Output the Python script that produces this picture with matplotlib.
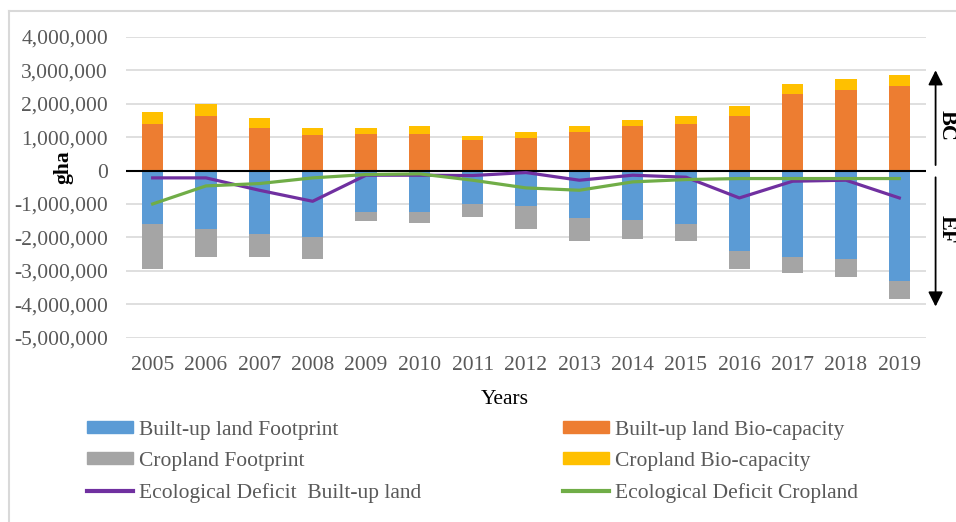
import matplotlib.pyplot as plt
from matplotlib.patches import Patch
from matplotlib.lines import Line2D
from matplotlib.ticker import FuncFormatter
import matplotlib.transforms as mtransforms
import numpy as np

plt.rcParams['font.family'] = ['Liberation Serif', 'DejaVu Serif']

years = ['2005', '2006', '2007', '2008', '2009', '2010', '2011', '2012',
         '2013', '2014', '2015', '2016', '2017', '2018', '2019']

# gha, footprints drawn below zero
builtup_fp = [1585000, 1760000, 1890000, 2000000, 1230000, 1230000, 990000, 1060000,
              1410000, 1470000, 1590000, 2410000, 2600000, 2660000, 3310000]
cropland_fp = [1370000, 820000, 690000, 640000, 290000, 350000, 410000, 700000,
               700000, 590000, 520000, 530000, 460000, 520000, 520000]
builtup_bc = [1405000, 1635000, 1280000, 1050000, 1100000, 1100000, 920000, 980000,
              1160000, 1340000, 1400000, 1635000, 2280000, 2410000, 2520000]
cropland_bc = [340000, 340000, 300000, 230000, 180000, 240000, 120000, 180000,
               170000, 170000, 240000, 290000, 300000, 340000, 350000]
deficit_builtup = [-220000, -220000, -590000, -920000, -140000, -140000, -150000, -60000,
                   -290000, -140000, -200000, -820000, -320000, -290000, -820000]
deficit_cropland = [-1000000, -460000, -390000, -220000, -120000, -100000, -290000, -520000,
                    -590000, -340000, -270000, -240000, -240000, -240000, -240000]

c_blue = '#5B9BD5'
c_orange = '#ED7D31'
c_gray = '#A5A5A5'
c_yellow = '#FFC000'
c_purple = '#7030A0'
c_green = '#70AD47'
txt = '#595959'

fig = plt.figure(figsize=(9.56, 5.22), dpi=100)
ax = fig.add_axes([0.1318, 0.353, 0.8368, 0.5766])

x = np.arange(len(years))
w = 0.4
bfp = -np.array(builtup_fp)
cfp = -np.array(cropland_fp)
ax.bar(x, bfp, w, color=c_blue, zorder=2)
ax.bar(x, cfp, w, bottom=bfp, color=c_gray, zorder=2)
ax.bar(x, builtup_bc, w, color=c_orange, zorder=2)
ax.bar(x, cropland_bc, w, bottom=builtup_bc, color=c_yellow, zorder=2)
ax.axhline(0, color='black', lw=1.5, zorder=3)
ax.plot(x, deficit_builtup, color=c_purple, lw=2.3, zorder=4)
ax.plot(x, deficit_cropland, color=c_green, lw=2.3, zorder=4)

ax.set_xlim(-0.5, len(years) - 0.5)
ax.set_ylim(-5000000, 4000000)
ax.set_yticks(np.arange(-5000000, 4000001, 1000000))
ax.yaxis.set_major_formatter(FuncFormatter(lambda v, p: f'{v:,.0f}'))
ax.set_xticks(x)
ax.set_xticklabels(years)
ax.grid(axis='y', color='#D9D9D9', lw=1.2, zorder=0)
for s in ax.spines.values():
    s.set_visible(False)
ax.tick_params(axis='both', length=0, labelsize=15.5, labelcolor=txt)
ax.tick_params(axis='y', pad=13)
ax.tick_params(axis='x', pad=13)

fig.text(0.528, 0.234, 'Years', ha='center', va='center', fontsize=15.5, color='black')
fig.text(0.066, 0.68, 'gha', ha='center', va='center', rotation=90,
         fontsize=15.5, fontweight='bold', color='black')

# BC / EF arrows to the right of the plot
trans = mtransforms.blended_transform_factory(ax.transAxes, ax.transData)
ap = dict(arrowstyle='-|>', color='black', lw=1.3, mutation_scale=22)
ax.annotate('', xy=(1.012, 3080000), xytext=(1.012, 80000),
            xycoords=trans, textcoords=trans, arrowprops=ap, annotation_clip=False)
ax.annotate('', xy=(1.012, -4150000), xytext=(1.012, -120000),
            xycoords=trans, textcoords=trans, arrowprops=ap, annotation_clip=False)
fig.text(0.99, 1 - 126 / 522, 'BC', rotation=-90, ha='center', va='center',
         fontsize=16, fontweight='bold')
fig.text(0.99, 1 - 229 / 522, 'EF', rotation=-90, ha='center', va='center',
         fontsize=16, fontweight='bold')

# outer frame
fig.add_artist(Line2D([9 / 956, 1.0], [1 - 11 / 522] * 2, transform=fig.transFigure,
                      color='#D9D9D9', lw=1.5))
fig.add_artist(Line2D([9 / 956] * 2, [0, 1 - 11 / 522], transform=fig.transFigure,
                      color='#D9D9D9', lw=1.5))

left_h = [Patch(color=c_blue), Patch(color=c_gray), Line2D([], [], color=c_purple, lw=3)]
left_l = ['Built-up land Footprint', 'Cropland Footprint', 'Ecological Deficit  Built-up land']
right_h = [Patch(color=c_orange), Patch(color=c_yellow), Line2D([], [], color=c_green, lw=3)]
right_l = ['Built-up land Bio-capacity', 'Cropland Bio-capacity', 'Ecological Deficit Cropland']
kw = dict(frameon=False, fontsize=15.5, labelcolor=txt, handlelength=2.15, handleheight=0.5,
          handletextpad=0.25, labelspacing=0.55, borderpad=0, borderaxespad=0, loc='upper left')
leg1 = fig.legend(left_h, left_l, bbox_to_anchor=(87 / 956, 1 - 421 / 522), **kw)
leg2 = fig.legend(right_h, right_l, bbox_to_anchor=(563 / 956, 1 - 421 / 522), **kw)

fig.savefig('out.png', dpi=100)
